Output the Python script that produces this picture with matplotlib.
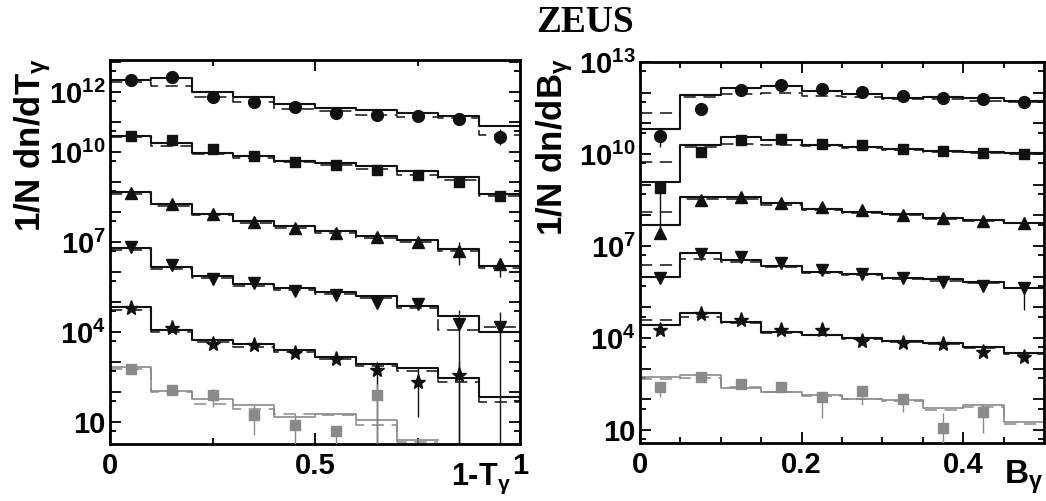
import numpy as np
import matplotlib
matplotlib.use("Agg")
import matplotlib.pyplot as plt
from matplotlib.ticker import LogLocator, FixedLocator, FuncFormatter, NullFormatter

plt.rcParams['font.family'] = ['Liberation Sans', 'DejaVu Sans']
plt.rcParams['font.weight'] = 'bold'
plt.rcParams['mathtext.fontset'] = 'custom'
plt.rcParams['mathtext.rm'] = 'Liberation Sans:bold'
plt.rcParams['mathtext.bf'] = 'Liberation Sans:bold'
plt.rcParams['mathtext.it'] = 'Liberation Sans'
nan = np.nan

# ---------------- DATA : 1-T_gamma ----------------
t_edges = [0.0, 0.1, 0.2, 0.3, 0.4, 0.5, 0.6, 0.7, 0.8, 0.9, 1.0]
t_centers = [0.05, 0.15, 0.25, 0.35, 0.45, 0.55, 0.65, 0.75, 0.85, 0.95]

t_circ = [2.6e12, 3.2e12, 6.8e11, 4.9e11, 3.2e11, 2.1e11, 1.8e11, 1.6e11, 1.3e11, 3.2e10]
t_circ_mc1 = [2.6e12, 2.9e12, 1.0e12, 7.0e11, 4.2e11, 3.0e11, 2.5e11, 2.0e11, 1.6e11, 7.5e10]
t_circ_mc2 = [2.2e12, 1.6e12, 6.8e11, 4.6e11, 2.7e11, 2.3e11, 1.7e11, 1.5e11, 1.35e11, 3.7e10]

t_sq = [3.6e10, 2.6e10, 1.3e10, 7.4e9, 4.9e9, 3.8e9, 2.6e9, 1.8e9, 1.05e9, 3.6e8]
t_sq_mc1 = [3.6e10, 2.1e10, 9.5e9, 7.4e9, 5.1e9, 4.4e9, 3.4e9, 2.3e9, 1.5e9, 3.9e8]
t_sq_mc2 = [3.2e10, 1.6e10, 8.7e9, 6.3e9, 4.7e9, 3.8e9, 2.8e9, 1.7e9, 1.15e9, 3.6e8]

t_tri = [4.4e8, 1.9e8, 8.7e7, 4.7e7, 2.9e7, 2.1e7, 1.5e7, 1.0e7, 5.2e6, 1.9e6]
t_tri_mc1 = [4.6e8, 1.9e8, 8.7e7, 4.9e7, 3.4e7, 2.3e7, 1.55e7, 1.2e7, 6.0e6, 1.6e6]
t_tri_mc2 = [4.0e8, 1.6e8, 8.0e7, 4.4e7, 3.0e7, 2.1e7, 1.4e7, 1.05e7, 5.0e6, 1.4e6]

t_inv = [6.8e6, 1.7e6, 6.0e5, 4.4e5, 2.3e5, 1.7e5, 9.5e4, 8.7e4, 1.9e4, 1.5e4]
t_inv_mc1 = [6.3e6, 1.5e6, 7.2e5, 3.9e5, 2.9e5, 2.1e5, 1.6e5, 7.2e4, 3.4e4, 1.0e4]
t_inv_mc2 = [5.5e6, 1.3e6, 6.3e5, 3.5e5, 2.6e5, 1.9e5, 1.4e5, 6.5e4, 1.2e4, 1.5e4]

t_star = [6.3e4, 1.35e4, 4.1e3, 3.6e3, 2.0e3, 1.3e3, 530, 215, 360, nan]
t_star_mc1 = [6.8e4, 1.15e4, 5.3e3, 3.9e3, 2.5e3, 1.5e3, 870, 630, 290, 70]
t_star_mc2 = [5.5e4, 1.0e4, 4.5e3, 3.3e3, 2.1e3, 1.25e3, 720, 500, 220, 45]

t_grey = [600, 115, 78, 17, 8.1, 5.2, 78, nan, nan, nan]
t_grey_mc1 = [680, 105, 58, 36, 15, 19, 11.4, 2.5, nan, nan]
t_grey_mc2 = [600, 100, 41, 28, 19, 17, 8, 2.2, nan, nan]

# (series, bin, low, high)
t_errors = [(0, 9, 1.7e10, 6e10), (2, 8, 1.7e6, 1.0e7), (2, 9, 6.8e5, 3.0e6),
            (3, 8, 1.0, 5.4e4), (3, 9, 1.0, 4.7e4),
            (4, 6, 1.0, 870), (4, 7, 15, 630), (4, 8, 1.0, 1000),
            (5, 2, 32, 130), (5, 3, 3.6, 36), (5, 4, 1.0, 19), (5, 5, 1.0, 7.5), (5, 6, 1.0, 190)]

# ---------------- DATA : B_gamma ----------------
b_edges = [0.0, 0.05, 0.1, 0.15, 0.2, 0.25, 0.3, 0.35, 0.4, 0.45, 0.5]
b_centers = [0.025, 0.075, 0.125, 0.175, 0.225, 0.275, 0.325, 0.375, 0.425, 0.475]

b_circ = [3.9e10, 2.9e11, 1.2e12, 1.8e12, 1.3e12, 1.07e12, 7.9e11, 6.9e11, 6.0e11, 4.9e11]
b_circ_mc1 = [6.5e10, 8.3e11, 1.4e12, 1.66e12, 1.15e12, 8.9e11, 6.9e11, 7.2e11, 6.6e11, 5.4e11]
b_circ_mc2 = [2.2e11, 7.0e11, 9.0e11, 9.5e11, 8.0e11, 7.0e11, 6.0e11, 6.0e11, 5.5e11, 4.8e11]

b_sq = [8.0e8, 1.2e10, 2.9e10, 3.2e10, 2.1e10, 1.9e10, 1.5e10, 1.26e10, 1.1e10, 9.8e9]
b_sq_mc1 = [1.26e9, 1.95e10, 3.6e10, 2.9e10, 1.95e10, 1.7e10, 1.45e10, 1.3e10, 1.2e10, 1.1e10]
b_sq_mc2 = [5.6e9, 1.7e10, 2.1e10, 1.9e10, 1.8e10, 1.55e10, 1.35e10, 1.2e10, 1.08e10, 1.0e10]

b_tri = [2.6e7, 3.2e8, 3.9e8, 2.5e8, 1.9e8, 1.5e8, 1.0e8, 8.0e7, 6.7e7, 5.5e7]
b_tri_mc1 = [4.9e7, 4.1e8, 4.1e8, 2.5e8, 1.6e8, 1.3e8, 1.07e8, 8.0e7, 7.0e7, 5.8e7]
b_tri_mc2 = [1.3e8, 3.3e8, 3.3e8, 2.2e8, 1.5e8, 1.2e8, 1.0e8, 7.5e7, 6.5e7, 5.5e7]

b_inv = [8.9e5, 5.5e6, 4.3e6, 2.9e6, 1.66e6, 1.23e6, 8.9e5, 6.9e5, 5.0e5, 4.2e5]
b_inv_mc1 = [1.0e6, 5.8e6, 3.5e6, 2.2e6, 1.45e6, 1.23e6, 8.9e5, 8.2e5, 6.9e5, 4.4e5]
b_inv_mc2 = [2.4e6, 3.8e6, 3.0e6, 2.0e6, 1.35e6, 1.15e6, 8.5e5, 7.5e5, 6.3e5, 4.2e5]

b_star = [1.8e4, 6.0e4, 3.9e4, 1.9e4, 1.9e4, 7.9e3, 7.1e3, 6.5e3, 3.5e3, 2.5e3]
b_star_mc1 = [2.6e4, 6.8e4, 3.4e4, 1.6e4, 1.3e4, 9.8e3, 8.1e3, 6.8e3, 5.0e3, 3.2e3]
b_star_mc2 = [3.9e4, 5.0e4, 3.0e4, 1.5e4, 1.3e4, 9.0e3, 7.5e3, 6.5e3, 4.6e3, 3.0e3]

b_grey = [260, 550, 330, 260, 117, 190, 100, 11.5, 40, nan]
b_grey_mc1 = [550, 620, 230, 180, 138, 107, 95, 51, 66, 18.6]
b_grey_mc2 = [480, 500, 250, 170, 125, 100, 90, 45, 55, 16]

b_errors = [(0, 0, 1.7e10, 5.4e10), (2, 0, 1.8e7, 7.6e8), (3, 9, 8e4, 5.5e5),
            (5, 0, 120, 330), (5, 4, 24, 178), (5, 5, 66, 260), (5, 6, 40, 138),
            (5, 7, 1.0, 35), (5, 8, 8, 70)]

# ---------------- STYLE ----------------
markers = ['o', 's', '^', 'v', '*', 's']
msizes = [8.5, 7.5, 8, 8, 11, 7.5]
dark = '#111111'
grey = '#8a8a8a'
colors = [dark, dark, dark, dark, dark, grey]


def draw_panel(ax, edges, centers, data, mc1, mc2, errors):
    for i in range(len(data)):
        c = colors[i]
        lw = 1.5 if i < 5 else 1.2
        ax.step(edges, np.append(mc1[i], mc1[i][-1]), where='post', color=c, lw=lw, zorder=2)
        ax.step(edges, np.append(mc2[i], mc2[i][-1]), where='post', color=c, lw=1.1,
                ls=(0, (8, 5)), zorder=2)
        ax.plot(centers, data[i], ls='none', marker=markers[i], ms=msizes[i], color=c,
                mec=c, zorder=4)
    for (s, b, lo, hi) in errors:
        ax.vlines(centers[b], lo, hi, color=colors[s], lw=1.0, zorder=3)


def style_axis(ax, xlim, ylim, xmajor, xminor, xlabels, ylabelmap):
    ax.set_yscale('log')
    ax.set_xlim(*xlim)
    ax.set_ylim(*ylim)
    ax.xaxis.set_major_locator(FixedLocator(xmajor))
    ax.xaxis.set_minor_locator(FixedLocator(xminor))
    ax.set_xticklabels(xlabels)
    ax.yaxis.set_major_locator(LogLocator(base=10, numticks=30))
    ax.yaxis.set_minor_locator(LogLocator(base=10, subs=(5.0,), numticks=30))
    ax.yaxis.set_minor_formatter(NullFormatter())

    def fmt(v, p):
        e = int(round(np.log10(v)))
        return ylabelmap.get(e, '')
    ax.yaxis.set_major_formatter(FuncFormatter(fmt))
    ax.tick_params(which='both', direction='in', top=True, right=True, width=1.3)
    ax.tick_params(which='major', length=8)
    ax.tick_params(which='minor', length=4)
    ax.tick_params(axis='x', labelsize=21, pad=6)
    ax.tick_params(axis='y', labelsize=21, pad=3)
    for sp in ax.spines.values():
        sp.set_linewidth(2.0)


fig = plt.figure(figsize=(10.46, 5.01), dpi=100)

# PANEL 1-T
ax1 = fig.add_axes([0.1052, 0.1138, 0.3920, 0.7665])
draw_panel(ax1, t_edges, t_centers,
           [t_circ, t_sq, t_tri, t_inv, t_star, t_grey],
           [t_circ_mc1, t_sq_mc1, t_tri_mc1, t_inv_mc1, t_star_mc1, t_grey_mc1],
           [t_circ_mc2, t_sq_mc2, t_tri_mc2, t_inv_mc2, t_star_mc2, t_grey_mc2],
           t_errors)
style_axis(ax1, (0, 1.0), (1.85, 1.2e13), [0, 0.5, 1.0], [0.25, 0.75], ['0', '0.5', '1'],
           {12: r'$10^{12}$', 10: r'$10^{10}$', 7: r'$10^{7}$', 4: r'$10^{4}$', 1: '10'})

# PANEL B
ax2 = fig.add_axes([0.6119, 0.1158, 0.3862, 0.7605])
draw_panel(ax2, b_edges, b_centers,
           [b_circ, b_sq, b_tri, b_inv, b_star, b_grey],
           [b_circ_mc1, b_sq_mc1, b_tri_mc1, b_inv_mc1, b_star_mc1, b_grey_mc1],
           [b_circ_mc2, b_sq_mc2, b_tri_mc2, b_inv_mc2, b_star_mc2, b_grey_mc2],
           b_errors)
style_axis(ax2, (0, 0.5), (3.8, 1.0e13), [0, 0.2, 0.4],
           [0.05, 0.1, 0.15, 0.25, 0.3, 0.35, 0.45], ['0', '0.2', '0.4'],
           {13: r'$10^{13}$', 10: r'$10^{10}$', 7: r'$10^{7}$', 4: r'$10^{4}$', 1: '10'})

# TITLES
fig.text(585 / 1046, 1 - 22 / 501, 'ZEUS', family='Liberation Serif', weight='bold',
         size=27, ha='center', va='center')
fig.text(33 / 1046, 1 - 58 / 501, r'1/N dn/dT$_{\gamma}$', rotation=90, size=25,
         weight='bold', ha='center', va='top')
fig.text(555 / 1046, 1 - 58 / 501, r'1/N dn/dB$_{\gamma}$', rotation=90, size=25,
         weight='bold', ha='center', va='top')
fig.text(511 / 1046, 1 - 496 / 501, r'1-T$_{\gamma}$', size=22, weight='bold',
         ha='right', va='bottom')
fig.text(1043 / 1046, 1 - 496 / 501, r'B$_{\gamma}$', size=24, weight='bold',
         ha='right', va='bottom')

fig.savefig('out.png', dpi=100)
